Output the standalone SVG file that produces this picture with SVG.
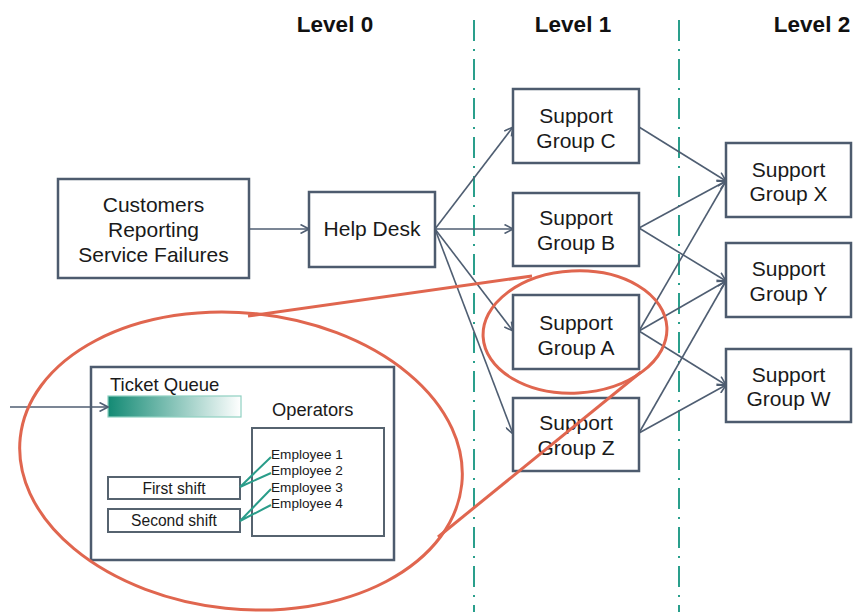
<svg xmlns="http://www.w3.org/2000/svg" width="853" height="612" viewBox="0 0 853 612">
  <defs>
    <style>
      .box { fill: #ffffff; stroke: #4d5b6e; stroke-width: 2.5; }
      .lbl { font-family: "Liberation Sans", Arial, sans-serif; font-size: 21px; fill: #1a1a1a; text-anchor: middle; }
      .lvl { font-family: "Liberation Sans", Arial, sans-serif; font-size: 22.5px; font-weight: bold; fill: #111111; text-anchor: middle; }
      .sm { font-family: "Liberation Sans", Arial, sans-serif; fill: #1a1a1a; }
      .edge { fill: none; stroke: #4f5e72; stroke-width: 1.6; marker-end: url(#chev); }
      .lane { stroke: #2a9f8c; stroke-width: 2; stroke-dasharray: 21 8 2 8; }
      .zoom { fill: none; stroke: #e0664f; stroke-width: 3; }
      .link { stroke: #2a9d8a; stroke-width: 2; fill: none; }
      .thin { fill: #ffffff; stroke: #56636f; stroke-width: 2; }
    </style>
    <marker id="chev" viewBox="0 0 10 10" refX="9.5" refY="5" markerWidth="10" markerHeight="10" markerUnits="userSpaceOnUse" orient="auto">
      <path d="M1,0.5 L9.5,5 L1,9.5" fill="none" stroke="#4f5e72" stroke-width="1.6"/>
    </marker>
    <linearGradient id="queueFill" x1="0" y1="0" x2="1" y2="0">
      <stop offset="0" stop-color="#138a74"/>
      <stop offset="1" stop-color="#ffffff"/>
    </linearGradient>
  </defs>

  <!-- level separators -->
  <g id="lanes">
    <line class="lane" x1="474" y1="20" x2="474" y2="612"/>
    <line class="lane" x1="679" y1="20" x2="679" y2="612"/>
  </g>

  <!-- level headings -->
  <g id="headings">
    <text class="lvl" x="335" y="32">Level 0</text>
    <text class="lvl" x="573" y="32">Level 1</text>
    <text class="lvl" x="812" y="32">Level 2</text>
  </g>

  <!-- connectors -->
  <g id="connectors">
    <line class="edge" x1="249" y1="229" x2="309" y2="229"/>
    <line class="edge" x1="435" y1="229" x2="513" y2="127"/>
    <line class="edge" x1="435" y1="229" x2="513" y2="229"/>
    <line class="edge" x1="435" y1="229" x2="513" y2="331"/>
    <line class="edge" x1="435" y1="229" x2="513" y2="434"/>
    <line class="edge" x1="639" y1="127" x2="726" y2="181"/>
    <line class="edge" x1="639" y1="228" x2="726" y2="181"/>
    <line class="edge" x1="639" y1="228" x2="726" y2="281"/>
    <line class="edge" x1="639" y1="331" x2="726" y2="181"/>
    <line class="edge" x1="639" y1="331" x2="726" y2="281"/>
    <line class="edge" x1="639" y1="331" x2="726" y2="385"/>
    <line class="edge" x1="639" y1="433" x2="726" y2="281"/>
    <line class="edge" x1="639" y1="433" x2="726" y2="385"/>
  </g>

  <g id="customers">
    <rect class="box" x="58" y="179" width="191" height="99"/>
    <text class="lbl" x="153.5" y="212">Customers</text>
    <text class="lbl" x="153.5" y="237">Reporting</text>
    <text class="lbl" x="153.5" y="262">Service Failures</text>
  </g>

  <g id="help-desk">
    <rect class="box" x="309" y="192" width="126" height="75"/>
    <text class="lbl" x="372" y="236">Help Desk</text>
  </g>

  <g id="group-c">
    <rect class="box" x="513" y="89" width="126" height="74"/>
    <text class="lbl" x="576" y="123">Support</text>
    <text class="lbl" x="576" y="148">Group C</text>
  </g>

  <g id="group-b">
    <rect class="box" x="513" y="193" width="126" height="73"/>
    <text class="lbl" x="576" y="225">Support</text>
    <text class="lbl" x="576" y="250">Group B</text>
  </g>

  <g id="group-a">
    <rect class="box" x="513" y="295" width="126" height="74"/>
    <text class="lbl" x="576" y="330">Support</text>
    <text class="lbl" x="576" y="355">Group A</text>
  </g>

  <g id="group-z">
    <rect class="box" x="513" y="398" width="126" height="73"/>
    <text class="lbl" x="576" y="430">Support</text>
    <text class="lbl" x="576" y="455">Group Z</text>
  </g>

  <g id="group-x">
    <rect class="box" x="726" y="143" width="125" height="74"/>
    <text class="lbl" x="788.5" y="177">Support</text>
    <text class="lbl" x="788.5" y="201">Group X</text>
  </g>

  <g id="group-y">
    <rect class="box" x="726" y="243" width="125" height="74"/>
    <text class="lbl" x="788.5" y="276">Support</text>
    <text class="lbl" x="788.5" y="301">Group Y</text>
  </g>

  <g id="group-w">
    <rect class="box" x="726" y="349" width="125" height="73"/>
    <text class="lbl" x="788.5" y="382">Support</text>
    <text class="lbl" x="788.5" y="406">Group W</text>
  </g>

  <!-- inside view of a support group -->
  <g id="group-detail">
    <rect class="box" x="91" y="367" width="303" height="193"/>
    <text class="sm" x="110" y="391" font-size="18.5">Ticket Queue</text>
    <rect x="108" y="396" width="133" height="21" fill="url(#queueFill)" stroke="#8fd0c1" stroke-width="1.2"/>
    <line class="edge" x1="10" y1="407" x2="108" y2="407"/>
    <text class="sm" x="272" y="416" font-size="18.3">Operators</text>
    <rect class="thin" x="252" y="428" width="132" height="108"/>
    <rect class="thin" x="108" y="477" width="132" height="22"/>
    <text class="sm" x="174" y="493.5" font-size="15.6" text-anchor="middle">First shift</text>
    <rect class="thin" x="108" y="509" width="132" height="23"/>
    <text class="sm" x="174" y="526" font-size="15.6" text-anchor="middle">Second shift</text>
    <path class="link" d="M240,487 L271,457 M240,487 L271,473 M240,521 L271,489 M240,521 L271,505"/>
    <text class="sm" x="271" y="459" font-size="13.6">Employee 1</text>
    <text class="sm" x="271" y="475" font-size="13.6">Employee 2</text>
    <text class="sm" x="271" y="492" font-size="13.6">Employee 3</text>
    <text class="sm" x="271" y="508" font-size="13.6">Employee 4</text>
  </g>

  <!-- zoom callout: ring round Support Group A, enlarged view, and the two guide lines -->
  <g id="callout">
    <ellipse class="zoom" cx="575" cy="332" rx="92" ry="61" transform="rotate(-3 575 332)"/>
    <ellipse class="zoom" cx="241" cy="461" rx="222" ry="148" transform="rotate(6 241 461)"/>
    <line class="zoom" x1="248" y1="316" x2="532" y2="276"/>
    <line class="zoom" x1="641" y1="372" x2="438" y2="537"/>
  </g>
</svg>
